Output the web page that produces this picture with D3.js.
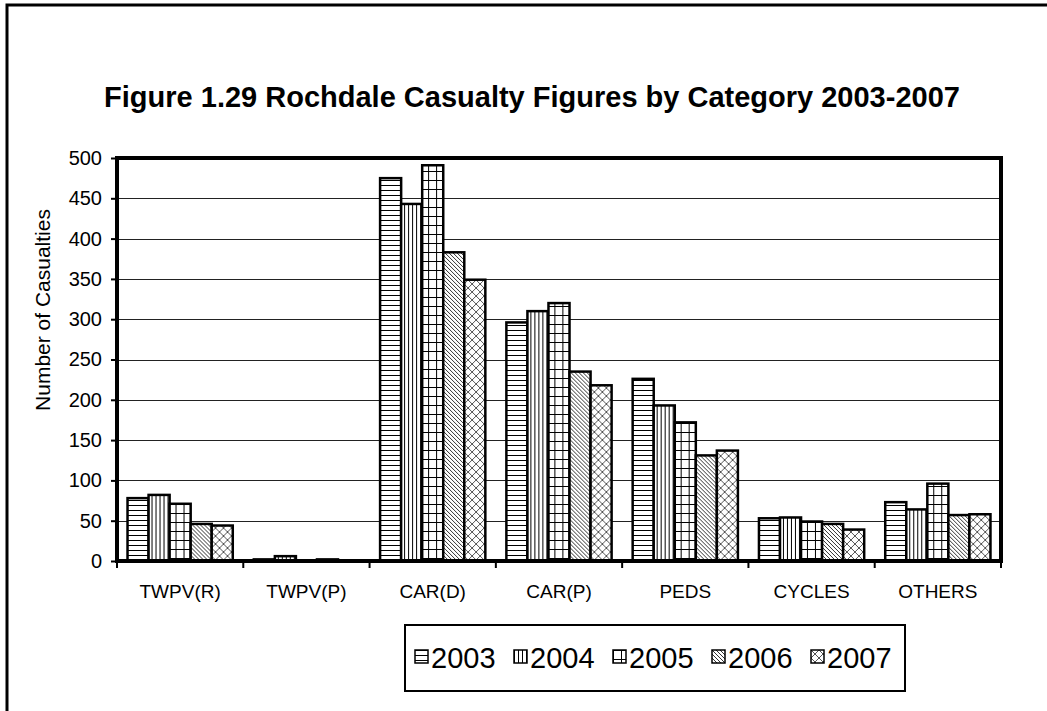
<!DOCTYPE html>
<html>
<head>
<meta charset="utf-8">
<script src="https://cdn.jsdelivr.net/npm/d3@7"></script>
<style>
  body { margin: 0; background: #fff; }
  text { font-family: "Liberation Sans", Arial, sans-serif; }
</style>
</head>
<body>
<div id="chart"></div>
<script>
// data
const categories = ["TWPV(R)", "TWPV(P)", "CAR(D)", "CAR(P)", "PEDS", "CYCLES", "OTHERS"];
const years = ["2003", "2004", "2005", "2006", "2007"];
const v2003 = [78, 2, 475, 296, 226, 53, 73];
const v2004 = [82, 6, 443, 310, 193, 54, 64];
const v2005 = [71, 0, 491, 320, 172, 49, 96];
const v2006 = [46, 2, 383, 235, 131, 46, 57];
const v2007 = [44, 0, 349, 218, 137, 39, 58];
const yTicks = [0, 50, 100, 150, 200, 250, 300, 350, 400, 450, 500];

const series = [v2003, v2004, v2005, v2006, v2007];

const W = 1047, H = 711;
const plot = {left: 117, right: 1001, top: 158, bottom: 561};

const svg = d3.select("#chart").append("svg")
    .attr("width", W)
    .attr("height", H);

// hatch patterns, one per year
const defs = svg.append("defs");
function pattern(id, w, h, draw) {
    const p = defs.append("pattern")
        .attr("id", id)
        .attr("patternUnits", "userSpaceOnUse")
        .attr("width", w).attr("height", h);
    p.append("rect").attr("width", w).attr("height", h).attr("fill", "#fff");
    draw(p);
}
pattern("p2003", 6, 5, p => p.append("line").attr("x1", 0).attr("x2", 6).attr("y1", 0.5).attr("y2", 0.5)
    .attr("stroke", "#000").attr("stroke-width", 1));
pattern("p2004", 4, 6, p => p.append("line").attr("x1", 0.5).attr("x2", 0.5).attr("y1", 0).attr("y2", 6)
    .attr("stroke", "#000").attr("stroke-width", 1));
pattern("p2005", 8, 9, p => {
    p.append("line").attr("x1", 0.5).attr("x2", 0.5).attr("y1", 0).attr("y2", 9).attr("stroke", "#000");
    p.append("line").attr("x1", 0).attr("x2", 8).attr("y1", 0.5).attr("y2", 0.5).attr("stroke", "#000");
});
pattern("p2006", 4, 4, p => {
    p.append("path").attr("d", "M-1,-1 L5,5 M-1,3 L1,5 M3,-1 L5,1")
        .attr("stroke", "#333").attr("stroke-width", 1);
});
pattern("p2007", 8, 8, p => {
    p.append("path").attr("d", "M0,0 L8,8 M8,0 L0,8")
        .attr("stroke", "#555").attr("stroke-width", 1);
});

// outer frame (runs off the right and bottom)
svg.append("rect")
    .attr("x", 7).attr("y", 5)
    .attr("width", 1200).attr("height", 900)
    .attr("fill", "none").attr("stroke", "#000").attr("stroke-width", 3);

svg.append("text")
    .attr("x", 532).attr("y", 107)
    .attr("text-anchor", "middle")
    .style("font-size", "29px")
    .style("font-weight", "bold")
    .text("Figure 1.29 Rochdale Casualty Figures by Category 2003-2007");

const x0 = d3.scaleBand().domain(categories)
    .range([plot.left, plot.right])
    .paddingInner(1 / 6).paddingOuter(1 / 12);
const x1 = d3.scaleBand().domain(years).range([0, x0.bandwidth()]);
const y = d3.scaleLinear().domain([0, 500]).range([plot.bottom, plot.top]);

// gridlines
svg.append("g")
    .selectAll("line")
    .data(yTicks.filter(d => d > 0 && d < 500))
    .enter().append("line")
    .attr("x1", plot.left).attr("x2", plot.right)
    .attr("y1", d => Math.round(y(d)) + 0.5).attr("y2", d => Math.round(y(d)) + 0.5)
    .attr("stroke", "#222").attr("stroke-width", 1);

// y axis
const yAxis = svg.append("g")
    .attr("transform", `translate(${plot.left},0)`)
    .call(d3.axisLeft(y).tickValues(yTicks).tickSize(6).tickPadding(9));
yAxis.select(".domain").remove();
yAxis.selectAll(".tick line").attr("stroke", "#000").attr("stroke-width", 2);
yAxis.selectAll("text").style("font-size", "20px").attr("fill", "#000")
    .style("font-family", "Liberation Sans, Arial, sans-serif");

svg.append("text")
    .attr("transform", "translate(50,310) rotate(-90)")
    .attr("text-anchor", "middle")
    .style("font-size", "21px")
    .text("Number of Casualties");

// bars
const groups = svg.append("g")
    .selectAll("g")
    .data(categories)
    .enter().append("g")
    .attr("transform", d => `translate(${x0(d)},0)`);

groups.selectAll("rect")
    .data((c, i) => years.map((yr, j) => ({year: yr, value: series[j][i]})))
    .enter().append("rect")
    .attr("x", d => x1(d.year))
    .attr("y", d => y(d.value))
    .attr("width", x1.bandwidth())
    .attr("height", d => plot.bottom - y(d.value))
    .attr("fill", d => `url(#p${d.year})`)
    .attr("stroke", "#000")
    .attr("stroke-width", 2.5);

// plot frame
svg.append("rect")
    .attr("x", plot.left).attr("y", plot.top)
    .attr("width", plot.right - plot.left).attr("height", plot.bottom - plot.top)
    .attr("fill", "none").attr("stroke", "#000").attr("stroke-width", 4);

// x axis ticks between categories
const step = x0.step();
svg.append("g")
    .selectAll("line")
    .data(d3.range(categories.length + 1))
    .enter().append("line")
    .attr("x1", i => plot.left + i * step).attr("x2", i => plot.left + i * step)
    .attr("y1", plot.bottom).attr("y2", plot.bottom + 7)
    .attr("stroke", "#000").attr("stroke-width", 2);

svg.append("g")
    .selectAll("text")
    .data(categories)
    .enter().append("text")
    .attr("x", d => x0(d) + x0.bandwidth() / 2)
    .attr("y", 598)
    .attr("text-anchor", "middle")
    .style("font-size", "19px")
    .text(d => d);

// legend
const legend = svg.append("g").attr("transform", "translate(405,625)");
legend.append("rect")
    .attr("width", 500).attr("height", 66)
    .attr("fill", "#fff").attr("stroke", "#000").attr("stroke-width", 2);
const item = legend.selectAll(".item")
    .data(years)
    .enter().append("g")
    .attr("class", "item")
    .attr("transform", (d, i) => `translate(${10 + i * 99},25)`);
item.append("rect")
    .attr("width", 13).attr("height", 13)
    .attr("fill", d => `url(#p${d})`)
    .attr("stroke", "#000").attr("stroke-width", 1.5);
item.append("text")
    .attr("x", 16).attr("y", 18)
    .style("font-size", "29px")
    .text(d => d);
</script>
</body>
</html>
